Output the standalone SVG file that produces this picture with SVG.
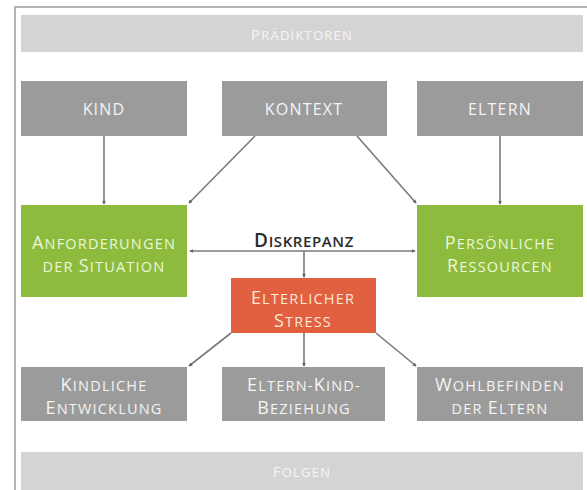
<svg xmlns="http://www.w3.org/2000/svg" width="587" height="490" viewBox="0 0 587 490">
<defs>
<style>
.t{font-family:"Open Sans","DejaVu Sans",sans-serif;text-anchor:middle;letter-spacing:1.2px}
.b{font-size:18px}
.s{font-size:14.5px}
.bar{fill:#d4d4d4}
.gray{fill:#9b9b9b}
.green{fill:#8cbb3d}
.red{fill:#e0603f}
.wt{fill:#f4f4f4}
.gt{fill:#eef7da}
.rt{fill:#fde8da}
.ln{stroke:#7a7a7a;stroke-width:1.6;fill:none;marker-end:url(#ah)}
</style>
<marker id="ah" viewBox="0 0 6 6" refX="5" refY="3" markerWidth="4" markerHeight="4" orient="auto-start-reverse" markerUnits="userSpaceOnUse">
<path d="M0,0 L6,3 L0,6 z" fill="#666"/>
</marker>
</defs>
<rect width="587" height="490" fill="#ffffff"/>
<path d="M15,490 V7 H587" fill="none" stroke="#b3b3b3" stroke-width="2"/>

<g id="praediktoren">
<rect class="bar" x="21" y="15" width="562" height="37"/>
<text class="t wt" x="302" y="40"><tspan style="font-size:15px">P</tspan><tspan style="font-size:13px">RÄDIKTOREN</tspan></text>
</g>
<g id="kind">
<rect class="gray" x="21" y="81" width="166" height="55"/>
<text class="t wt" x="104" y="115" style="font-size:16px">KIND</text>
</g>
<g id="kontext">
<rect class="gray" x="222" y="81" width="165" height="55"/>
<text class="t wt" x="304" y="115" style="font-size:16px">KONTEXT</text>
</g>
<g id="eltern">
<rect class="gray" x="417" y="81" width="166" height="55"/>
<text class="t wt" x="500" y="115" style="font-size:16px">ELTERN</text>
</g>
<g id="anforderungen">
<rect class="green" x="21" y="205" width="166" height="92"/>
<text class="t gt" x="104" y="249"><tspan class="b">A</tspan><tspan class="s">NFORDERUNGEN</tspan></text>
<text class="t gt" x="104" y="272"><tspan class="s">DER </tspan><tspan class="b">S</tspan><tspan class="s">ITUATION</tspan></text>
</g>
<g id="ressourcen">
<rect class="green" x="417" y="205" width="166" height="92"/>
<text class="t gt" x="500" y="249"><tspan class="b">P</tspan><tspan class="s">ERSÖNLICHE</tspan></text>
<text class="t gt" x="500" y="272"><tspan class="b">R</tspan><tspan class="s">ESSOURCEN</tspan></text>
</g>
<g id="diskrepanz">
<text class="t" x="304" y="247" fill="#2b2b2b" style="font-weight:600;letter-spacing:0.6px"><tspan style="font-size:19px">D</tspan><tspan style="font-size:15px">ISKREPANZ</tspan></text>
</g>
<g id="stress">
<rect class="red" x="231" y="278" width="145" height="55"/>
<text class="t rt" x="303" y="304"><tspan class="b">E</tspan><tspan class="s">LTERLICHER</tspan></text>
<text class="t rt" x="303" y="327"><tspan class="b">S</tspan><tspan class="s">TRESS</tspan></text>
</g>
<g id="entwicklung">
<rect class="gray" x="21" y="367" width="166" height="54"/>
<text class="t wt" x="104" y="391"><tspan class="b">K</tspan><tspan class="s">INDLICHE</tspan></text>
<text class="t wt" x="104" y="414"><tspan class="b">E</tspan><tspan class="s">NTWICKLUNG</tspan></text>
</g>
<g id="beziehung">
<rect class="gray" x="222" y="367" width="163" height="54"/>
<text class="t wt" x="304" y="391"><tspan class="b">E</tspan><tspan class="s">LTERN-</tspan><tspan class="b">K</tspan><tspan class="s">IND-</tspan></text>
<text class="t wt" x="304" y="414"><tspan class="b">B</tspan><tspan class="s">EZIEHUNG</tspan></text>
</g>
<g id="wohlbefinden">
<rect class="gray" x="417" y="367" width="166" height="54"/>
<text class="t wt" x="500" y="391"><tspan class="b">W</tspan><tspan class="s">OHLBEFINDEN</tspan></text>
<text class="t wt" x="500" y="414"><tspan class="s">DER </tspan><tspan class="b">E</tspan><tspan class="s">LTERN</tspan></text>
</g>
<g id="folgen">
<rect class="bar" x="21" y="452" width="562" height="38"/>
<text class="t wt" x="302" y="477"><tspan style="font-size:15px">F</tspan><tspan style="font-size:13px">OLGEN</tspan></text>
</g>

<g id="connectors">
<line class="ln" x1="104" y1="136" x2="104" y2="204"/>
<line class="ln" x1="500" y1="136" x2="500" y2="204"/>
<line class="ln" x1="255" y1="136" x2="189" y2="203"/>
<line class="ln" x1="357" y1="136" x2="416" y2="203"/>
<line class="ln" x1="190" y1="251" x2="415" y2="251" style="marker-start:url(#ah)"/>
<line class="ln" x1="304" y1="251" x2="304" y2="277"/>
<line class="ln" x1="304" y1="333" x2="304" y2="366"/>
<line class="ln" x1="231" y1="333" x2="189" y2="366"/>
<line class="ln" x1="376" y1="333" x2="416" y2="366"/>
</g>
</svg>
